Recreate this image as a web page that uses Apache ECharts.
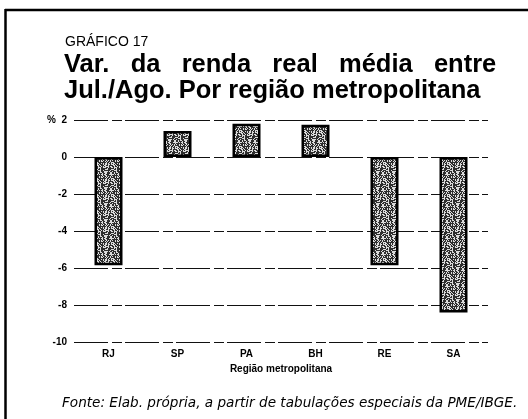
<!DOCTYPE html>
<html>
<head>
<meta charset="utf-8">
<script src="https://cdn.jsdelivr.net/npm/echarts@6/dist/echarts.min.js"></script>
<style>
  html, body { margin: 0; padding: 0; background: #fff; }
  #chart { width: 528px; height: 419px; }
</style>
</head>
<body>
<div id="chart"></div>
<script>
// 数据
const regioes = ['RJ', 'SP', 'PA', 'BH', 'RE', 'SA'];
const variacao = [-5.85, 1.4, 1.8, 1.75, -5.85, -8.4];
const yTicks = { min: -10, max: 2, step: 2 };

// 点状纹理 (确定性的, 模仿印刷网点)
function makeTexture() {
    const c = document.createElement('canvas');
    c.width = 16;
    c.height = 16;
    const ctx = c.getContext('2d');
    ctx.fillStyle = '#2e2e2e';
    ctx.fillRect(0, 0, 16, 16);
    ctx.fillStyle = '#dcdcdc';
    for (let y = 0; y < 16; y++) {
        for (let x = 0; x < 16; x++) {
            const h = ((x * 73856093) ^ (y * 19349663)) >>> 0;
            if (h % 7 < 3) ctx.fillRect(x, y, 1, 1);
        }
    }
    return c;
}

(function () {
    let myChart = echarts.init(document.getElementById('chart'));
    let option = {
        backgroundColor: '#fff',
        animation: false,
        graphic: [
            // 外框 (上, 左)
            { type: 'line', shape: { x1: 5, y1: 10, x2: 528, y2: 10 }, style: { stroke: '#000', lineWidth: 2.5 } },
            { type: 'line', shape: { x1: 5.5, y1: 9, x2: 5.5, y2: 419 }, style: { stroke: '#000', lineWidth: 2.5 } },
            {
                type: 'text', left: 65, top: 35,
                style: { text: 'GRÁFICO 17', font: '14px "Liberation Sans", Arial, sans-serif', fill: '#000' }
            },
            {
                type: 'text', left: 64, top: 52,
                style: { text: 'Var.   da   renda   real   média   entre', font: 'bold 25.5px "Liberation Sans", Arial, sans-serif', fill: '#000' }
            },
            {
                type: 'text', left: 64, top: 78,
                style: { text: 'Jul./Ago. Por região metropolitana', font: 'bold 25.5px "Liberation Sans", Arial, sans-serif', fill: '#000' }
            },
            {
                type: 'text', left: 62, top: 396,
                style: { text: 'Fonte: Elab. própria, a partir de tabulações especiais da PME/IBGE.', font: 'italic 13.6px "DejaVu Sans", sans-serif', fill: '#000' }
            }
        ],
        grid: {
            left: 74,
            right: 40,
            top: 120,
            bottom: 77
        },
        xAxis: {
            type: 'category',
            data: regioes,
            name: 'Região metropolitana',
            nameLocation: 'middle',
            nameGap: 22,
            nameTextStyle: { color: '#000', fontWeight: 'bold', fontSize: 10, fontFamily: 'Liberation Sans' },
            axisLine: { show: false, onZero: false },
            axisTick: { show: false },
            axisLabel: { color: '#000', fontWeight: 'bold', fontSize: 10, margin: 7, fontFamily: 'Liberation Sans' }
        },
        yAxis: {
            type: 'value',
            min: yTicks.min,
            max: yTicks.max,
            interval: yTicks.step,
            axisLine: { show: false },
            axisTick: { show: false },
            axisLabel: {
                color: '#000',
                fontWeight: 'bold',
                fontSize: 10,
                margin: 7,
                fontFamily: 'Liberation Sans',
                formatter: function (v) {
                    return v === yTicks.max ? '%  ' + v : v;
                }
            },
            splitLine: {
                lineStyle: { color: '#111', width: 1.2, type: [34, 4, 10, 3] }
            }
        },
        series: [{
            type: 'bar',
            data: variacao,
            barWidth: 28,
            itemStyle: {
                color: { image: makeTexture(), repeat: 'repeat' },
                borderColor: '#000',
                borderWidth: 2.5
            }
        }]
    };

    myChart.setOption(option);
    window.addEventListener('resize', function () {
        myChart.resize();
    });
})();
</script>
</body>
</html>
